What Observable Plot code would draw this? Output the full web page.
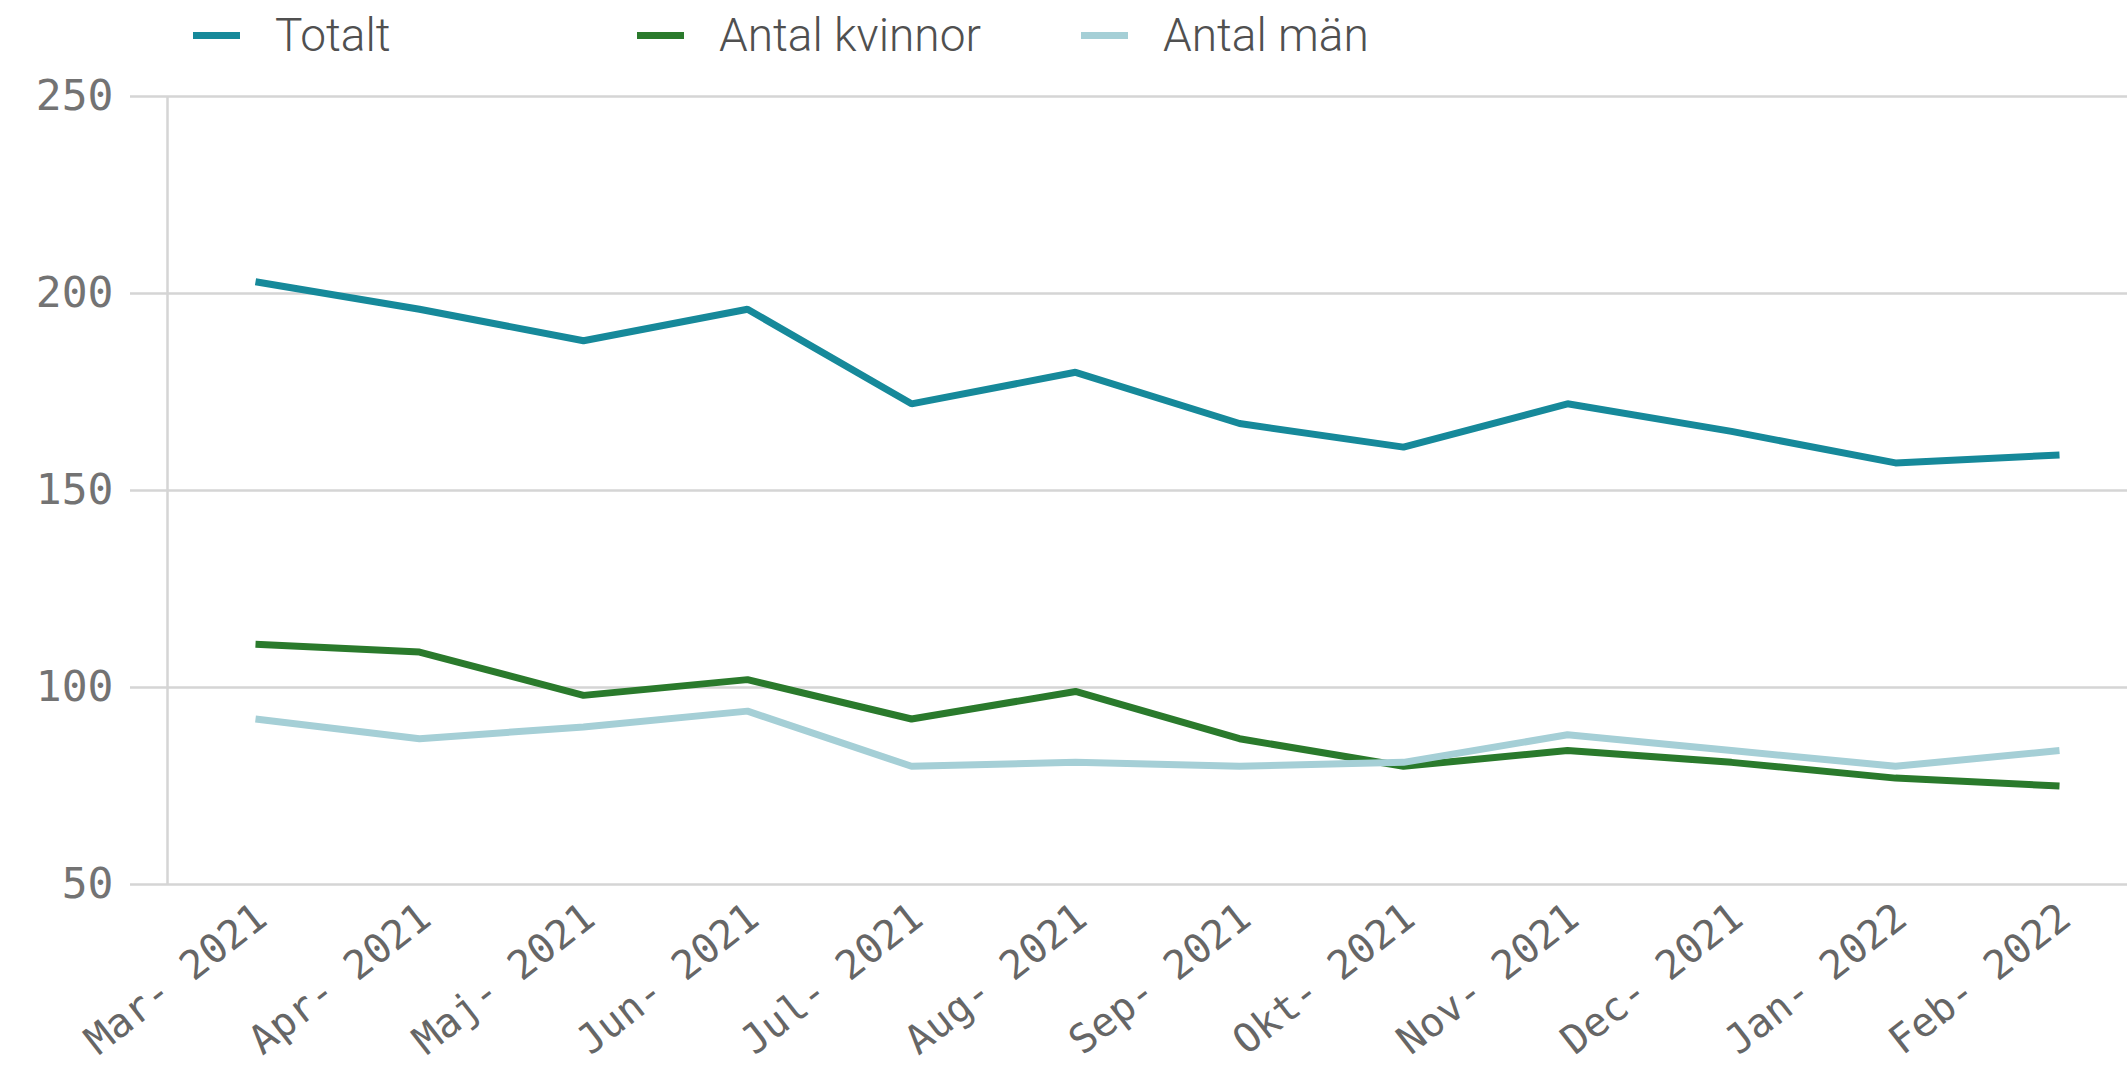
<!DOCTYPE html>
<html>
<head>
<meta charset="utf-8">
<script src="https://cdn.jsdelivr.net/npm/d3@7"></script>
<script src="https://cdn.jsdelivr.net/npm/@observablehq/plot@0.6"></script>
<style>
  html, body { margin: 0; padding: 0; background: #fff; overflow: hidden; }
  #legend { position: relative; height: 70px; width: 2127px; font-family: Roboto, "Noto Sans", sans-serif; font-size: 46px; font-weight: 300; color: #505050; }
  #legend .item { position: absolute; top: 0; height: 70px; display: flex; align-items: center; }
  #legend .sw { width: 47px; height: 7px; margin-right: 35px; }
  #chart svg text { font-family: "DejaVu Sans Mono", monospace; }
</style>
</head>
<body>
<div id="legend"></div>
<div id="chart"></div>
<script>
const months = ["Mar- 2021","Apr- 2021","Maj- 2021","Jun- 2021","Jul- 2021","Aug- 2021","Sep- 2021","Okt- 2021","Nov- 2021","Dec- 2021","Jan- 2022","Feb- 2022"];
const totalt  = [203, 196, 188, 196, 172, 180, 167, 161, 172, 165, 157, 159];
const kvinnor = [111, 109,  98, 102,  92,  99,  87,  80,  84,  81,  77,  75];
const man     = [ 92,  87,  90,  94,  80,  81,  80,  81,  88,  84,  80,  84];
const seriesNames  = ["Totalt", "Antal kvinnor", "Antal män"];
const seriesColors = ["#16899a", "#2a7a2c", "#a5cfd6"];
const yTicks = [50, 100, 150, 200, 250];

const seriesValues = [totalt, kvinnor, man];
const data = [];
seriesNames.forEach((s, si) => {
  months.forEach((m, i) => data.push({month: m, series: s, value: seriesValues[si][i]}));
});

// Legend
const legend = document.getElementById("legend");
seriesNames.forEach((s, i) => {
  const it = document.createElement("div");
  it.className = "item";
  it.style.left = (193 + i * 444) + "px";
  const sw = document.createElement("div");
  sw.className = "sw";
  sw.style.background = seriesColors[i];
  const t = document.createElement("span");
  t.textContent = s;
  it.appendChild(sw);
  it.appendChild(t);
  legend.appendChild(it);
});

const gridColor = "#d5d5d5";
const chart = Plot.plot({
  width: 2127,
  height: 996,
  marginTop: 26,
  marginBottom: 182,
  marginLeft: 163,
  marginRight: 0,
  style: {background: "#fff", overflow: "visible"},
  x: {type: "point", domain: months, padding: 0, insetLeft: 88, insetRight: 64},
  y: {domain: [50, 250]},
  color: {domain: seriesNames, range: seriesColors},
  marks: [
    Plot.ruleY(yTicks, {stroke: gridColor, strokeWidth: 2.5}),
    Plot.ruleX([months[0]], {dx: -88, y1: 50, y2: 250, stroke: gridColor, strokeWidth: 2.5}),
    Plot.axisY({ticks: yTicks, tickSize: 33, tickPadding: 17, stroke: gridColor, strokeWidth: 2.5, fill: "#737373", fontSize: 43, label: null, tickFormat: d => String(d)}),
    Plot.axisX({tickRotate: -38, tickSize: 0, tickPadding: 28, dx: 6, fill: "#666", fontSize: 40, label: null}),
    Plot.line(data, {x: "month", y: "value", z: "series", stroke: "series", strokeWidth: 7, strokeLinejoin: "miter", strokeLinecap: "butt"})
  ]
});
document.getElementById("chart").appendChild(chart);
</script>
</body>
</html>
